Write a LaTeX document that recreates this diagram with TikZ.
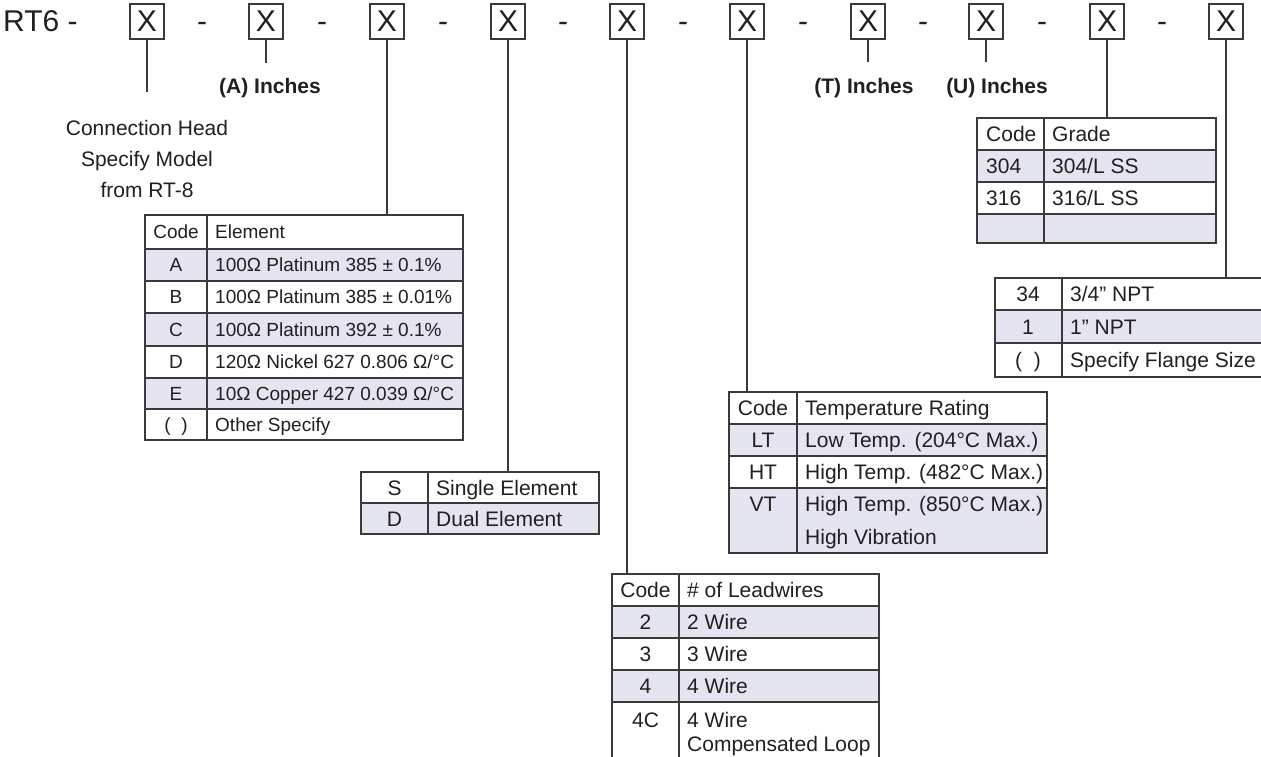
\documentclass[tikz,border=0pt]{standalone}
\usepackage{fontspec}
\setmainfont{Liberation Sans}
\definecolor{ln}{HTML}{3A3A3A}
\definecolor{shd}{HTML}{E5E5F1}
\definecolor{ink}{HTML}{231F20}
\tikzset{
  xbox/.style={draw=ln, line width=1.2pt, minimum width=34pt, minimum height=35pt, inner sep=0pt, text=ink, font=\fontsize{30}{32}\selectfont},
  big/.style={text=ink, font=\fontsize{30}{32}\selectfont, inner sep=0pt},
  lbl/.style={text=ink, font=\bfseries\fontsize{21}{23}\selectfont, inner sep=0pt},
  note/.style={text=ink, font=\fontsize{21}{31}\selectfont, align=center, inner sep=0pt},
  cellA/.style={text=ink, font=\fontsize{19}{22}\selectfont, inner sep=0pt, anchor=base},
  cellAw/.style={cellA, anchor=base west},
  cell/.style={text=ink, font=\fontsize{21}{24}\selectfont, inner sep=0pt, anchor=base},
  cellw/.style={cell, anchor=base west},
  conn/.style={draw=ln, line width=1.3pt},
  rule/.style={draw=ln, line width=1.2pt},
  tframe/.style={draw=ln, line width=1.3pt, inner sep=0pt, outer sep=0pt, anchor=north west},
}
\begin{document}
\begin{tikzpicture}[x=1pt,y=-1pt]
\useasboundingbox (0,0) rectangle (1261,757);
\clip (0,0) rectangle (1261,757);
\fill[white] (0,0) rectangle (1261,757);

% ---------- header row ----------
\node[big, anchor=base west] (rt) at (3,32) {RT6 -};
\foreach \i/\x in {1/147,2/266,3/387,4/508,5/627,6/747,7/868,8/986,9/1107,10/1226}
  \node[xbox] (b\i) at (\x,21.5) {X};
\foreach \i/\x in {1/202,2/322,3/443,4/563,5/683,6/803,7/923,8/1042,9/1162}
  \node[big, anchor=base] (d\i) at (\x,32) {-};

% ---------- short labels ----------
\coordinate (e1) at (147,92);
\coordinate (e2) at (266,63);
\coordinate (e7) at (868,62);
\coordinate (e8) at (986,62);
\draw[conn] (b1.south) -- (e1);
\draw[conn] (b2.south) -- (e2);
\draw[conn] (b7.south) -- (e7);
\draw[conn] (b8.south) -- (e8);
\node[lbl] (lA) at (270,88) {(A) Inches};
\node[lbl] (lT) at (864,88) {(T) Inches};
\node[lbl] (lU) at (997,88) {(U) Inches};
\node[note] (nh) at (147,159) {Connection Head\\Specify Model\\from RT-8};

% ---------- Element table ----------
\fill[shd] (145,249) rectangle (463,281);
\fill[shd] (145,313) rectangle (463,346);
\fill[shd] (145,378) rectangle (463,409);
\node[tframe, minimum width=318pt, minimum height=225pt] (tEl) at (145,215) {};
\foreach \y in {249,281,313,346,378,409} \draw[rule] (145,\y) -- (463,\y);
\draw[rule] (207,215) -- (207,440);
\node[cellA]  (el0c) at (176,238.8) {Code};
\node[cellAw] (el0d) at (215,238.8) {Element};
\node[cellA]  (el1c) at (176,271.8) {A};
\node[cellAw] (el1d) at (215,271.8) {100Ω Platinum 385 ± 0.1\%};
\node[cellA]  (el2c) at (176,303.8) {B};
\node[cellAw] (el2d) at (215,303.8) {100Ω Platinum 385 ± 0.01\%};
\node[cellA]  (el3c) at (176,336.3) {C};
\node[cellAw] (el3d) at (215,336.3) {100Ω Platinum 392 ± 0.1\%};
\node[cellA]  (el4c) at (176,368.8) {D};
\node[cellAw] (el4d) at (215,368.8) {120Ω Nickel 627 0.806 Ω/°C};
\node[cellA]  (el5c) at (176,400.3) {E};
\node[cellAw] (el5d) at (215,400.3) {10Ω Copper 427 0.039 Ω/°C};
\node[cellA]  (el6c) at (176,431.3) {(~~)};
\node[cellAw] (el6d) at (215,431.3) {Other Specify};
\draw[conn] (b3.south) -- (b3.south |- tEl.north);

% ---------- Single / Dual table ----------
\fill[shd] (361,503) rectangle (599,534);
\node[tframe, minimum width=238pt, minimum height=62pt] (tSD) at (361,472) {};
\draw[rule] (361,503) -- (599,503);
\draw[rule] (428,472) -- (428,534);
\node[cell]  (sd1c) at (394.5,495) {S};
\node[cellw] (sd1d) at (436,495) {Single Element};
\node[cell]  (sd2c) at (394.5,526) {D};
\node[cellw] (sd2d) at (436,526) {Dual Element};
\draw[conn] (b4.south) -- (b4.south |- tSD.north);

% ---------- Leadwires table ----------
\fill[shd] (612,606) rectangle (879,638);
\fill[shd] (612,670) rectangle (879,702);
\node[tframe, minimum width=267pt, minimum height=230pt] (tLW) at (612,574) {};
\foreach \y in {606,638,670,702} \draw[rule] (612,\y) -- (879,\y);
\draw[rule] (679,574) -- (679,800);
\node[cell]  (lw0c) at (645.5,597.5) {Code};
\node[cellw] (lw0d) at (687,597.5) {\# of Leadwires};
\node[cell]  (lw1c) at (645.5,629.5) {2};
\node[cellw] (lw1d) at (687,629.5) {2 Wire};
\node[cell]  (lw2c) at (645.5,661.5) {3};
\node[cellw] (lw2d) at (687,661.5) {3 Wire};
\node[cell]  (lw3c) at (645.5,693.5) {4};
\node[cellw] (lw3d) at (687,693.5) {4 Wire};
\node[cell]  (lw4c) at (645.5,727.5) {4C};
\node[cellw] (lw4d) at (687,727.5) {4 Wire};
\node[cellw] (lw4e) at (687,751.5) {Compensated Loop};
\draw[conn] (b5.south) -- (b5.south |- tLW.north);

% ---------- Temperature table ----------
\fill[shd] (729,424) rectangle (1047,456);
\fill[shd] (729,488) rectangle (1047,553);
\node[tframe, minimum width=318pt, minimum height=161pt] (tTR) at (729,392) {};
\foreach \y in {424,456,488} \draw[rule] (729,\y) -- (1047,\y);
\draw[rule] (797,392) -- (797,553);
\node[cell]  (tr0c) at (763,415.5) {Code};
\node[cellw] (tr0d) at (805,415.5) {Temperature Rating};
\node[cell]  (tr1c) at (763,447.5) {LT};
\node[cellw] (tr1d) at (805,447.5) {Low Temp. (204°C Max.)};
\node[cell]  (tr2c) at (763,479.5) {HT};
\node[cellw] (tr2d) at (805,479.5) {High Temp. (482°C Max.)};
\node[cell]  (tr3c) at (763,511.5) {VT};
\node[cellw] (tr3d) at (805,511.5) {High Temp. (850°C Max.)};
\node[cellw] (tr3e) at (805,544.5) {High Vibration};
\draw[conn] (b6.south) -- (b6.south |- tTR.north);

% ---------- Grade table ----------
\fill[shd] (977,150) rectangle (1216,182);
\fill[shd] (977,214) rectangle (1216,243);
\node[tframe, minimum width=239pt, minimum height=125pt] (tGR) at (977,118) {};
\foreach \y in {150,182,214} \draw[rule] (977,\y) -- (1216,\y);
\draw[rule] (1044,118) -- (1044,243);
\node[cellw] (gr0c) at (986,141.5) {Code};
\node[cellw] (gr0d) at (1052,141.5) {Grade};
\node[cellw] (gr1c) at (986,173.5) {304};
\node[cellw] (gr1d) at (1052,173.5) {304/L SS};
\node[cellw] (gr2c) at (986,205.5) {316};
\node[cellw] (gr2d) at (1052,205.5) {316/L SS};
\draw[conn] (b9.south) -- (b9.south |- tGR.north);

% ---------- Flange table ----------
\fill[shd] (995,310) rectangle (1261,343);
\node[tframe, minimum width=300pt, minimum height=99pt] (tFL) at (995,278) {};
\foreach \y in {310,343} \draw[rule] (995,\y) -- (1261,\y);
\draw[rule] (1062,278) -- (1062,377);
\node[cell]  (fl1c) at (1028,301.5) {34};
\node[cellw] (fl1d) at (1070,301.5) {3/4” NPT};
\node[cell]  (fl2c) at (1028,334) {1};
\node[cellw] (fl2d) at (1070,334) {1” NPT};
\node[cell]  (fl3c) at (1028,367.5) {(~~)};
\node[cellw] (fl3d) at (1070,367.5) {Specify Flange Size};
\draw[conn] (b10.south) -- (b10.south |- tFL.north);
\end{tikzpicture}
\end{document}
